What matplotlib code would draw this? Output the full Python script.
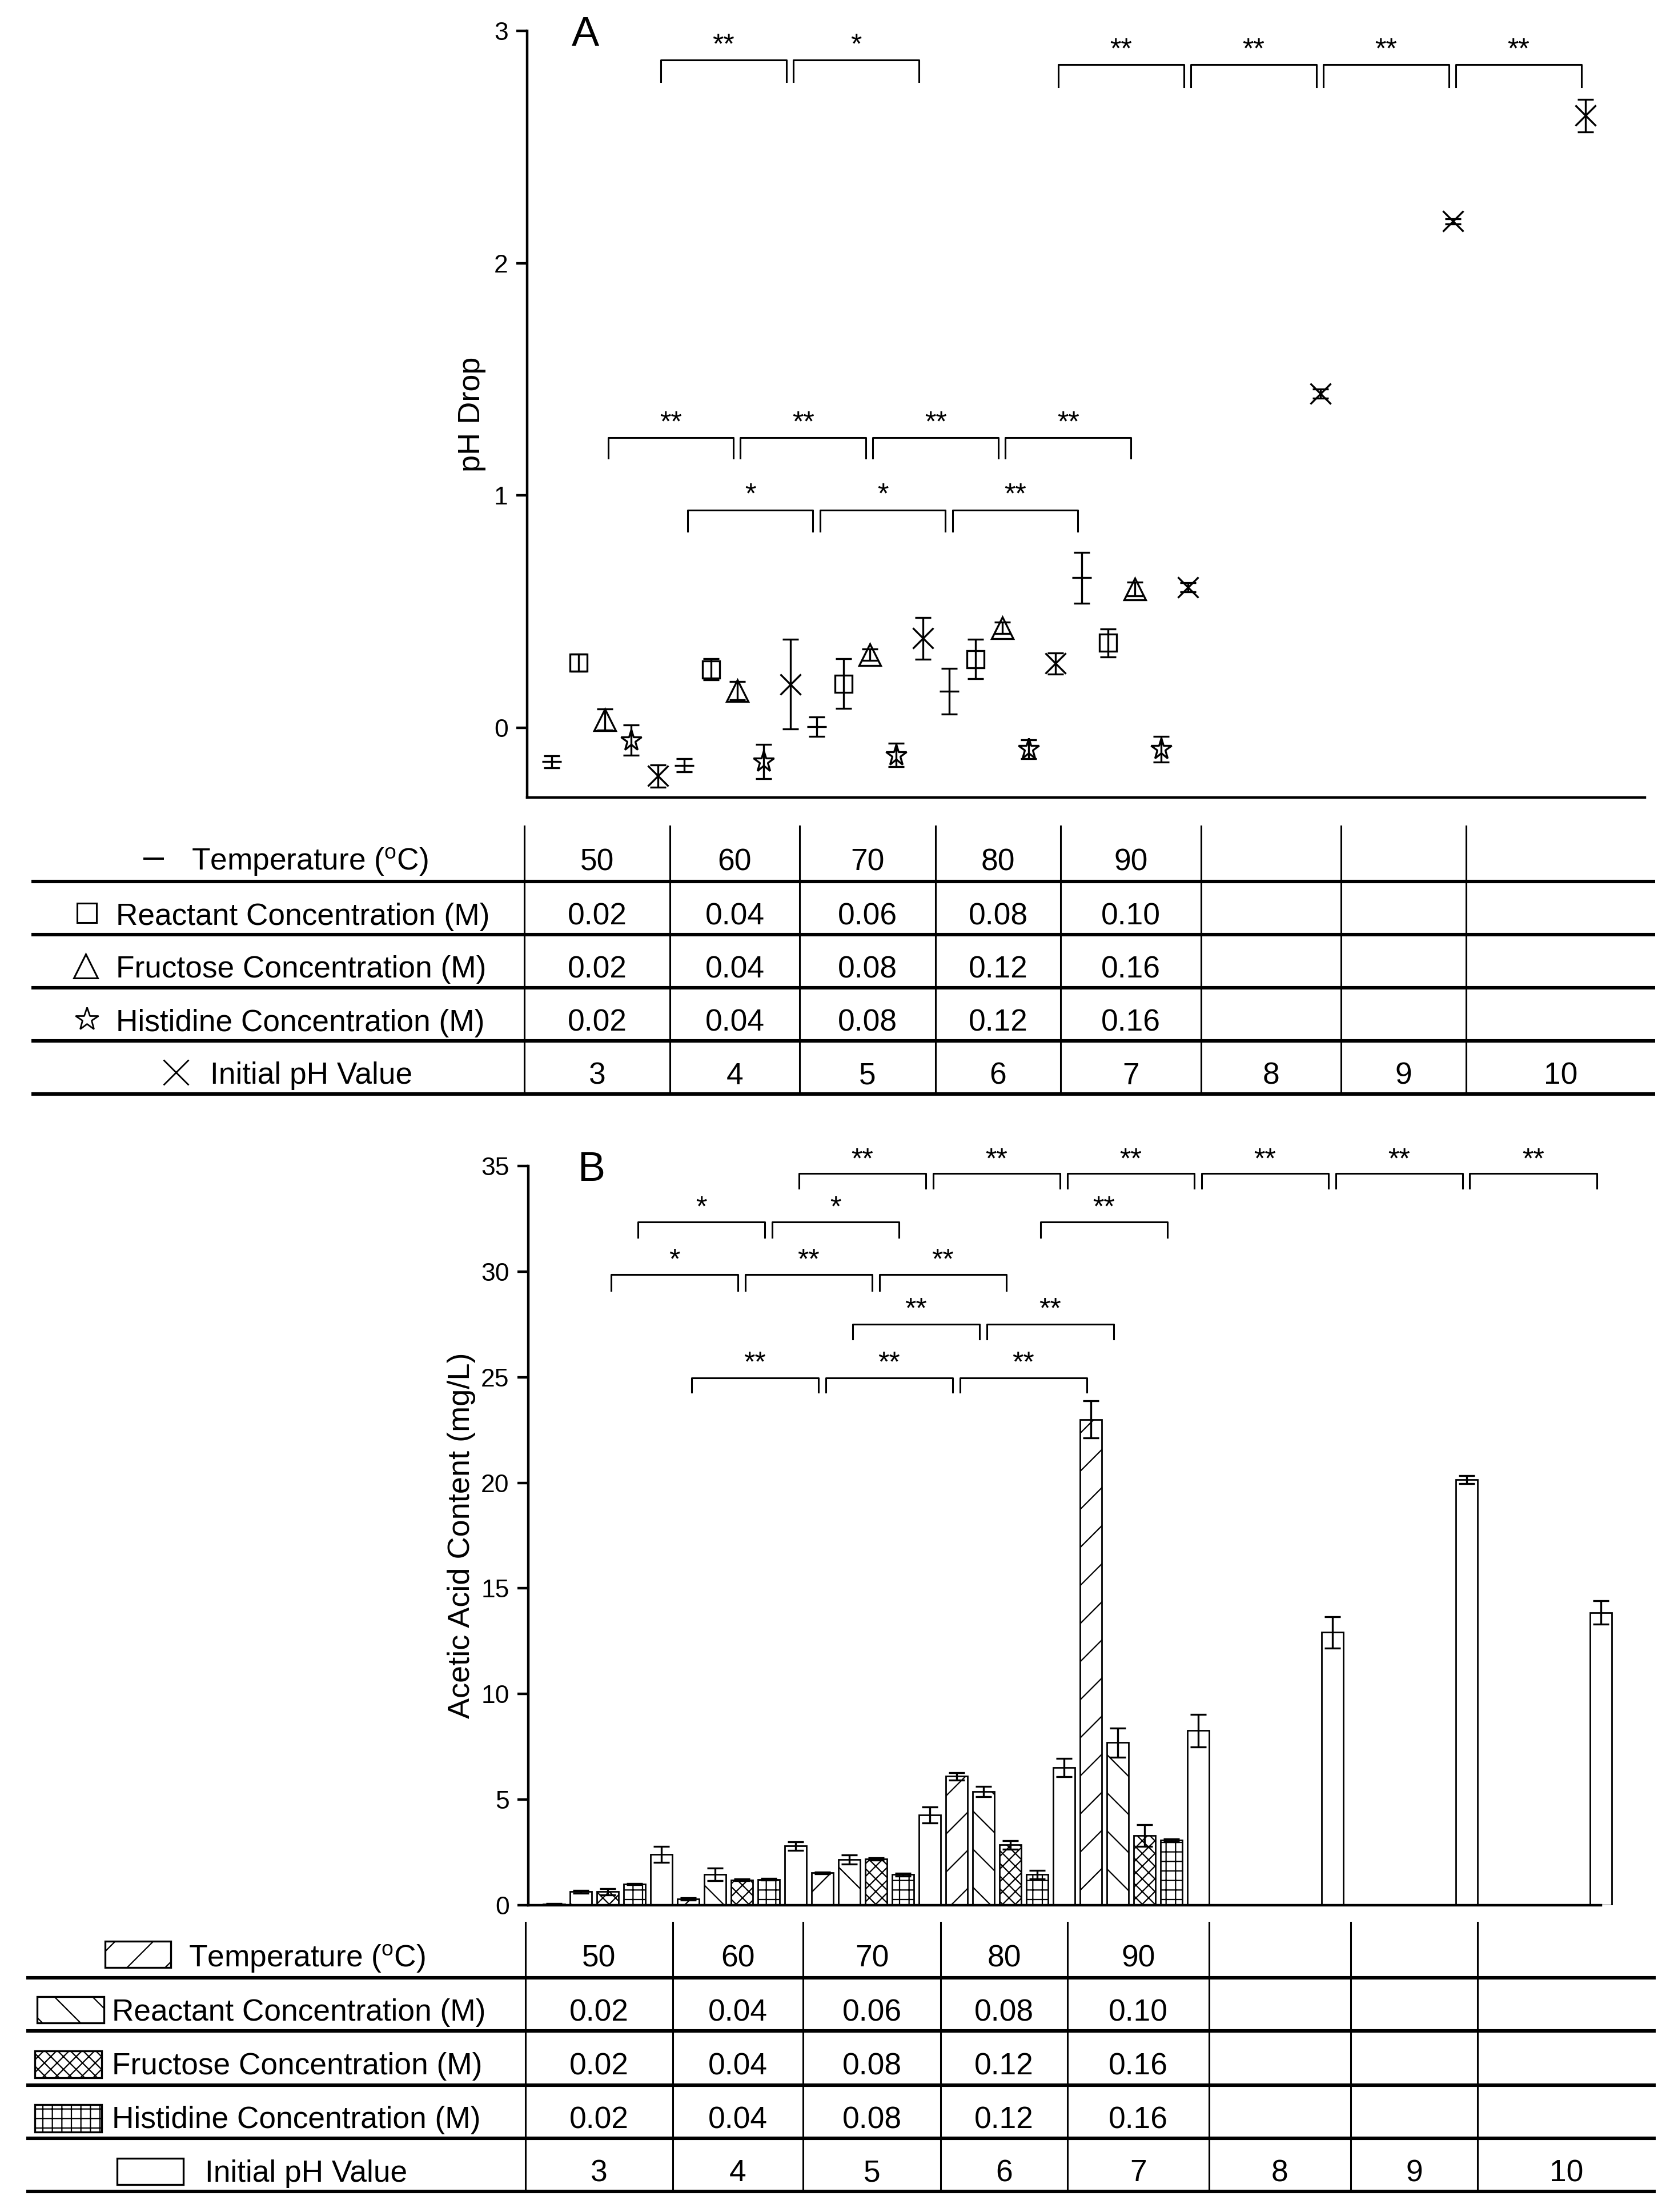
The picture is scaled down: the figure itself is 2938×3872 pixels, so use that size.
import numpy as np
import matplotlib.pyplot as plt
from matplotlib.patches import Rectangle
from matplotlib.transforms import offset_copy

plt.rcParams['font.family'] = ['Liberation Sans', 'DejaVu Sans']
plt.rcParams['mathtext.fontset'] = 'custom'
plt.rcParams['mathtext.rm'] = 'Liberation Sans'
plt.rcParams['hatch.linewidth'] = 0.8

# ---- table categories
temperatures = ['50', '60', '70', '80', '90']
reactant_conc = ['0.02', '0.04', '0.06', '0.08', '0.10']
fructose_conc = ['0.02', '0.04', '0.08', '0.12', '0.16']
histidine_conc = ['0.02', '0.04', '0.08', '0.12', '0.16']
initial_ph = ['3', '4', '5', '6', '7', '8', '9', '10']
row_names = ['Temperature ($\\mathregular{^o}$C)', 'Reactant Concentration (M)',
             'Fructose Concentration (M)', 'Histidine Concentration (M)', 'Initial pH Value']

# ---- panel A: pH drop
drop_temp = [-0.146, -0.162, 0.005, 0.157, 0.646]
drop_temp_err = [0.026, 0.028, 0.042, 0.098, 0.11]
drop_reac = [0.28, 0.252, 0.19, 0.296, 0.366]
drop_reac_err = [0.037, 0.045, 0.107, 0.085, 0.06]
drop_fruc = [0.035, 0.16, 0.315, 0.43, 0.597]
drop_fruc_err = [0.045, 0.04, 0.025, 0.025, 0.03]
drop_hist = [-0.053, -0.146, -0.117, -0.092, -0.092]
drop_hist_err = [0.065, 0.074, 0.05, 0.04, 0.056]
drop_ph = [-0.207, 0.187, 0.385, 0.277, 0.605, 1.439, 2.18, 2.635]
drop_ph_err = [0.048, 0.193, 0.09, 0.045, 0.02, 0.02, 0.01, 0.07]

# ---- panel B: acetic acid content (mg/L)
acid_temp = [0.05, 0.3, 1.53, 6.1, 23.0]
acid_temp_err = [0.02, 0.05, 0.04, 0.17, 0.87]
acid_reac = [0.64, 1.45, 2.16, 5.38, 7.7]
acid_reac_err = [0.07, 0.3, 0.22, 0.25, 0.69]
acid_fruc = [0.64, 1.2, 2.19, 2.86, 3.3]
acid_fruc_err = [0.15, 0.05, 0.05, 0.2, 0.52]
acid_hist = [1.0, 1.23, 1.45, 1.45, 3.07]
acid_hist_err = [0.03, 0.05, 0.06, 0.2, 0.07]
acid_ph = [2.41, 2.81, 4.27, 6.52, 8.27, 12.92, 20.15, 13.86]
acid_ph_err = [0.37, 0.2, 0.37, 0.44, 0.77, 0.75, 0.2, 0.55]

# significance: (series index, i, j, label)
sig_A = {
    'ph_left': [(4, 0, 1, '**'), (4, 1, 2, '*')],
    'ph_right': [(4, 3, 4, '**'), (4, 4, 5, '**'), (4, 5, 6, '**'), (4, 6, 7, '**')],
    'fruc': [(2, 0, 1, '**'), (2, 1, 2, '**'), (2, 2, 3, '**'), (2, 3, 4, '**')],
    'temp': [(0, 1, 2, '*'), (0, 2, 3, '*'), (0, 3, 4, '**')],
}
levels_A = {'ph_left': (2.875, 2.78, 2.975), 'ph_right': (2.855, 2.76, 2.955),
            'fruc': (1.248, 1.16, 1.35), 'temp': (0.9375, 0.845, 1.04)}
sig_B = {
    'ph': [(4, 1, 2, '**'), (4, 2, 3, '**'), (4, 3, 4, '**'), (4, 4, 5, '**'), (4, 5, 6, '**'), (4, 6, 7, '**')],
    'hist': [(3, 0, 1, '*'), (3, 1, 2, '*'), (3, 3, 4, '**')],
    'fruc': [(2, 0, 1, '*'), (2, 1, 2, '**'), (2, 2, 3, '**')],
    'reac': [(1, 2, 3, '**'), (1, 3, 4, '**')],
    'temp': [(0, 1, 2, '**'), (0, 2, 3, '**'), (0, 3, 4, '**')],
}
levels_B = {'ph': (34.65, 33.94, 35.7), 'hist': (32.34, 31.62, 33.43), 'fruc': (29.85, 29.1, 30.94),
            'reac': (27.52, 26.8, 28.6), 'temp': (24.96, 24.29, 26.06)}


def xpos(s, n):
    return np.arange(n) * 5 + s


W, H = 2938, 3872
fig = plt.figure(figsize=(W / 200, H / 200), dpi=200)


def style_axis(ax):
    ax.spines['top'].set_visible(False)
    ax.spines['right'].set_visible(False)
    ax.spines['left'].set_linewidth(1.6)
    ax.spines['bottom'].set_linewidth(1.6)
    ax.set_xticks([])
    ax.tick_params(axis='y', direction='out', length=7, width=1.6, labelsize=16, pad=5)


def brackets(ax, sig, levels, fs=18):
    tr = offset_copy(ax.transData, fig=fig, y=-0.58 * fs, units='points')
    for key, items in sig.items():
        top, tip, lab = levels[key]
        for s, i, j, txt in items:
            x1 = i * 5 + s + 0.12
            x2 = j * 5 + s - 0.15
            ax.plot([x1, x1, x2, x2], [tip, top, top, tip], color='black', lw=1.1)
            ax.text((x1 + x2) / 2, lab, txt, ha='center', va='baseline', fontsize=fs, transform=tr)


# ---------------- panel A
axA = fig.add_axes([923 / W, 1 - 1396 / H, (2880 - 923) / W, (1396 - 54) / H])
series_A = [(drop_temp, drop_temp_err), (drop_reac, drop_reac_err), (drop_fruc, drop_fruc_err),
            (drop_hist, drop_hist_err), (drop_ph, drop_ph_err)]
markers_A = [('_', 12), ('s', 10.5), ('^', 14), ('*', 14), ('x', 13)]
for s, ((vals, errs), (m, ms)) in enumerate(zip(series_A, markers_A)):
    axA.errorbar(xpos(s, len(vals)), vals, yerr=errs, fmt=m, ms=ms, color='black', mfc='none',
                 mec='black', mew=1.2, ecolor='black', elinewidth=1.2, capsize=5, capthick=1.2)
axA.set_xlim(-0.93, 41.25)
axA.set_ylim(-0.3, 3)
axA.set_yticks([0, 1, 2, 3])
style_axis(axA)
axA.set_ylabel('pH Drop', fontsize=19.5)
axA.yaxis.set_label_coords(-0.037, 0.5)
brackets(axA, sig_A, levels_A)
axA.text(1.26, 3 - 0.358 * 72 / 406.7, 'A', fontsize=26, ha='center', va='baseline')

# ---------------- panel B
axB = fig.add_axes([925 / W, 1 - 3335 / H, (2831 - 925) / W, (3335 - 2041) / H])
series_B = [(acid_temp, acid_temp_err), (acid_reac, acid_reac_err), (acid_fruc, acid_fruc_err),
            (acid_hist, acid_hist_err), (acid_ph, acid_ph_err)]
hatches = ['/', '\\', 'xxx', '++', '']
for s, ((vals, errs), h) in enumerate(zip(series_B, hatches)):
    axB.bar(xpos(s, len(vals)), vals, width=0.81, color='white', edgecolor='black', linewidth=1.0,
            hatch=h, yerr=errs,
            error_kw=dict(ecolor='black', elinewidth=1.2, capsize=5, capthick=1.2))
axB.set_xlim(-0.96, 39.6)
axB.set_ylim(0, 35)
axB.set_yticks(np.arange(0, 36, 5))
style_axis(axB)
axB.spines['bottom'].set_bounds(-0.96, 39.0)
axB.set_ylabel('Acetic Acid Content (mg/L)', fontsize=19.5)
axB.yaxis.set_label_coords(-0.049 * 1878 / 1906, 0.5)
brackets(axB, sig_B, levels_B)
axB.text(1.39, 35 - 26 / 36.97, 'B', fontsize=26, ha='center', va='baseline')

# ---------------- tables (drawn in figure pixel coordinates)
axT = fig.add_axes([0, 0, 1, 1])
axT.set_xlim(0, W)
axT.set_ylim(H, 0)
axT.axis('off')

row_values = [temperatures, reactant_conc, fructose_conc, histidine_conc, initial_ph]
fs_tab = 19.2


def draw_table(cols, rows, left, text_x):
    for y in rows[1:]:
        axT.plot([left, cols[-1]], [y, y], color='black', lw=2.2, solid_capstyle='butt')
    for x in cols[:-1]:
        axT.plot([x, x], [rows[0], rows[-1]], color='black', lw=1.1)
    for r in range(5):
        yc = (rows[r] + rows[r + 1]) / 2
        axT.text(text_x[r], yc + 29, row_names[r], fontsize=fs_tab, ha='left', va='baseline')
        for c, v in enumerate(row_values[r]):
            axT.text((cols[c] + cols[c + 1]) / 2, yc + 29, v, fontsize=fs_tab, ha='center', va='baseline')
    return [(rows[r] + rows[r + 1]) / 2 for r in range(5)]


cols_A = [918, 1173, 1400, 1638, 1857, 2103, 2348, 2567, 2898]
rows_A = [1446, 1543, 1636, 1729, 1822, 1915]
centers_A = draw_table(cols_A, rows_A, 55, [335, 203, 203, 203, 368])
sym_A = [(269, '_', 13, 1.4), (152, 's', 12.5, 1.1), (150, '^', 15, 1.1), (152, '*', 15, 1.0), (308, 'x', 15.5, 1.0)]
for (sx, m, ms, mew), yc in zip(sym_A, centers_A):
    axT.plot(sx, yc + 8, marker=m, ms=ms, mfc='none', mec='black', mew=mew, ls='none')

cols_B = [920, 1178, 1406, 1647, 1869, 2117, 2365, 2587, 2899]
rows_B = [3365, 3462, 3555, 3650, 3743, 3836]
draw_table(cols_B, rows_B, 46, [330, 196, 196, 196, 359])
patch_B = [(184, 3398, 115, 46), (65, 3495, 117, 46), (61, 3590, 117, 47), (61, 3684, 117, 48), (205, 3778, 116, 46)]
for (px, py, pw, ph), h in zip(patch_B, hatches):
    axT.add_patch(Rectangle((px, py), pw, ph, facecolor='white', edgecolor='black', lw=1.2, hatch=h))

fig.savefig('out.png', dpi=200)
